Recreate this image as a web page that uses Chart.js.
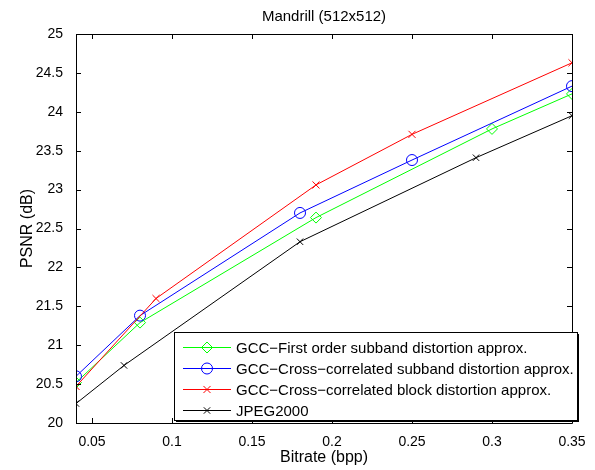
<!DOCTYPE html>
<html>
<head>
<meta charset="utf-8">
<script src="https://cdn.jsdelivr.net/npm/chart.js@4.4.0/dist/chart.umd.min.js"></script>
<style>
  body { margin: 0; background: #fff; }
  #wrap { width: 595px; height: 470px; }
</style>
</head>
<body>
<div id="wrap"><canvas id="Chart" width="595" height="470"></canvas></div>
<script>
// Data
var chartTitle = 'Mandrill (512x512)';
var seriesNames = [
    'GCC\u2212First order subband distortion approx.',
    'GCC\u2212Cross\u2212correlated subband distortion approx.',
    'GCC\u2212Cross\u2212correlated block distortion approx.',
    'JPEG2000'
];
var firstOrderX = [0.04, 0.08, 0.19, 0.30, 0.35];
var firstOrderY = [20.52, 21.29, 22.64, 23.78, 24.23];
var crossSubbandX = [0.04, 0.08, 0.18, 0.25, 0.35];
var crossSubbandY = [20.60, 21.38, 22.70, 23.38, 24.33];
var crossBlockX = [0.04, 0.09, 0.19, 0.25, 0.35];
var crossBlockY = [20.47, 21.60, 23.06, 23.71, 24.63];
var jpegX = [0.04, 0.07, 0.18, 0.29, 0.35];
var jpegY = [20.25, 20.74, 22.33, 23.41, 23.95];

var xTicks = [0.05, 0.1, 0.15, 0.2, 0.25, 0.3, 0.35];
var yTicks = [20, 20.5, 21, 21.5, 22, 22.5, 23, 23.5, 24, 24.5, 25];

function pts(xs, ys) {
    return xs.map(function (x, i) { return { x: x, y: ys[i] }; });
}

var FONT = 'Liberation Sans, Arial, Helvetica, sans-serif';

var datasets = [
    { label: seriesNames[0], data: pts(firstOrderX, firstOrderY), borderColor: '#00ff00', pointStyle: 'rectRot', pointRadius: 5.5, order: 4 },
    { label: seriesNames[1], data: pts(crossSubbandX, crossSubbandY), borderColor: '#0000ff', pointStyle: 'circle', pointRadius: 5.5, order: 3 },
    { label: seriesNames[2], data: pts(crossBlockX, crossBlockY), borderColor: '#ff0000', pointStyle: 'crossRot', pointRadius: 5, order: 2 },
    { label: seriesNames[3], data: pts(jpegX, jpegY), borderColor: '#000000', pointStyle: 'crossRot', pointRadius: 4.5, order: 1 }
];
datasets.forEach(function (d) {
    d.borderWidth = 1;
    d.pointBorderColor = d.borderColor;
    d.pointBackgroundColor = 'rgba(0,0,0,0)';
    d.pointBorderWidth = 1;
    d.pointHoverRadius = d.pointRadius;
    d.tension = 0;
    d.fill = false;
});

// box with inward ticks, title and legend, MATLAB style
var boxPlugin = {
    id: 'box',
    afterDatasetsDraw: function (chart) {
        var c = chart.ctx, a = chart.chartArea;
        var xs = chart.scales.x, ys = chart.scales.y;
        c.save();
        c.strokeStyle = '#000';
        c.lineWidth = 1;
        c.beginPath();
        c.rect(Math.round(a.left) + 0.5, Math.round(a.top) + 0.5, Math.round(a.right - a.left), Math.round(a.bottom - a.top));
        xTicks.forEach(function (v) {
            var px = Math.round(xs.getPixelForValue(v)) + 0.5;
            c.moveTo(px, a.bottom); c.lineTo(px, a.bottom - 5);
            c.moveTo(px, a.top); c.lineTo(px, a.top + 5);
        });
        yTicks.forEach(function (v) {
            var py = Math.round(ys.getPixelForValue(v)) + 0.5;
            c.moveTo(a.left, py); c.lineTo(a.left + 5, py);
            c.moveTo(a.right, py); c.lineTo(a.right - 5, py);
        });
        c.stroke();

        // title centred over the axes
        c.fillStyle = '#000';
        c.font = '15px ' + FONT;
        c.textAlign = 'center';
        c.textBaseline = 'middle';
        c.fillText(chartTitle, (a.left + a.right) / 2, 17);
        c.restore();
    },
    afterDraw: function (chart) {
        // legend box inside the plot, lower right
        var c = chart.ctx;
        var lx = 174, ly = 332, lw = 403, lh = 88;
        c.save();
        c.fillStyle = '#000';
        c.fillRect(lx + 2, ly + 2, lw, lh);
        c.fillStyle = '#fff';
        c.fillRect(lx, ly, lw, lh);
        c.strokeStyle = '#000';
        c.lineWidth = 1;
        c.strokeRect(lx + 0.5, ly + 0.5, lw, lh);
        c.font = '15px ' + FONT;
        c.textBaseline = 'middle';
        chart.data.datasets.forEach(function (d, i) {
            var yy = Math.round(ly + 15 + i * 21) + 0.5;
            c.strokeStyle = d.borderColor;
            c.lineWidth = 1;
            c.beginPath();
            c.moveTo(183, yy); c.lineTo(231, yy);
            c.stroke();
            c.fillStyle = 'rgba(0,0,0,0)';
            Chart.helpers.drawPoint(c, { pointStyle: d.pointStyle, radius: d.pointRadius, borderWidth: 1 }, 207, yy);
            c.fillStyle = '#000';
            c.fillText(d.label, 236, yy + 1);
        });
        c.restore();
    }
};

var config = {
    type: 'line',
    data: { datasets: datasets },
    options: {
        responsive: false,
        animation: false,
        layout: { padding: { left: 0, right: 23, top: 34, bottom: 0 } },
        plugins: {
            legend: { display: false },
            tooltip: { enabled: false },
            title: { display: false }
        },
        scales: {
            x: {
                type: 'linear',
                min: 0.04,
                max: 0.35,
                grid: { display: false },
                border: { display: false },
                afterBuildTicks: function (s) { s.ticks = xTicks.map(function (v) { return { value: v }; }); },
                afterFit: function (s) { s.height = 47; },
                ticks: {
                    color: '#000',
                    font: { family: FONT, size: 14 },
                    padding: 3,
                    maxRotation: 0,
                    autoSkip: false,
                    callback: function (v) { return String(v); }
                },
                title: {
                    display: true,
                    text: 'Bitrate (bpp)',
                    color: '#000',
                    font: { family: FONT, size: 16 },
                    padding: { top: 0, bottom: 3 }
                }
            },
            y: {
                type: 'linear',
                min: 20,
                max: 25,
                grid: { display: false },
                border: { display: false },
                afterBuildTicks: function (s) { s.ticks = yTicks.map(function (v) { return { value: v }; }); },
                afterFit: function (s) { s.width = 76; },
                ticks: {
                    color: '#000',
                    font: { family: FONT, size: 14 },
                    padding: 5,
                    autoSkip: false,
                    callback: function (v) { return String(v); }
                },
                title: {
                    display: true,
                    text: 'PSNR (dB)',
                    color: '#000',
                    font: { family: FONT, size: 16 },
                    padding: { top: 18, bottom: 0 }
                }
            }
        }
    },
    plugins: [boxPlugin]
};

var ctx = document.getElementById('Chart').getContext('2d');
var myChart = new Chart(ctx, config);
</script>
</body>
</html>
